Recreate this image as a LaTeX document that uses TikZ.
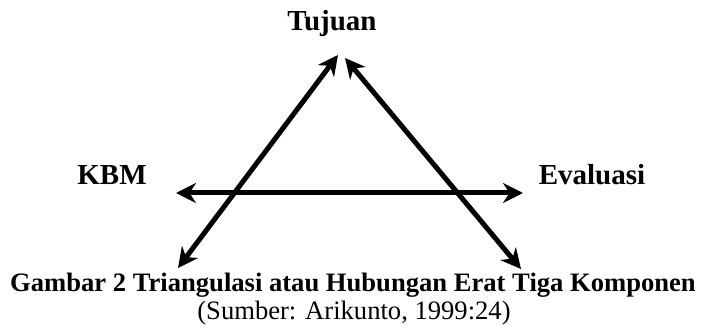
\documentclass[tikz,border=0pt]{standalone}
\usepackage{fontspec}
\setmainfont{Liberation Serif}
\usetikzlibrary{arrows.meta,positioning}
\tikzset{
  lbl/.style={font=\fontsize{14.5}{17}\selectfont\bfseries,inner sep=0pt,anchor=base},
  captxt/.style={font=\fontsize{13.3}{16}\selectfont\bfseries,inner sep=0pt,anchor=base},
  srctxt/.style={font=\fontsize{13.3}{16}\selectfont,inner sep=0pt,anchor=base},
  ar/.style={{Stealth[length=10pt,width=10pt]}-{Stealth[length=10pt,width=10pt]},line width=2.5pt},
}
\begin{document}
\begin{tikzpicture}[x=0.5pt,y=-0.5pt]
  \useasboundingbox (0,0) rectangle (702,331);
  % labels
  \node[lbl] (tujuan) at (332,31) {Tujuan};
  \node[lbl] (kbm) at (112,185) {KBM};
  \node[lbl] (eval) at (592,185) {Evaluasi};
  \node[captxt] (judul) at (353,292) {Gambar 2 Triangulasi atau Hubungan Erat Tiga Komponen};
  \node[srctxt] (sumber) at (354,320) {(Sumber: Arikunto, 1999:24)};
  % arrow ends
  \coordinate (topL) at (338,55);
  \coordinate (topR) at (345,58);
  \coordinate (botL) at (178,268);
  \coordinate (botR) at (521,269);
  \coordinate (midL) at (176,193);
  \coordinate (midR) at (523,193);

  \draw[ar] (botL) -- (topL);
  \draw[ar] (topR) -- (botR);
  \draw[ar] (midL) -- (midR);
\end{tikzpicture}
\end{document}
